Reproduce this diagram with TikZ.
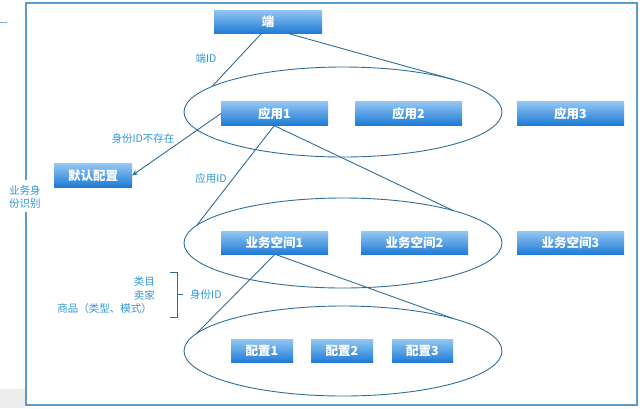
\documentclass[tikz,border=0pt]{standalone}
\usepackage{fontspec}
\setmainfont{Noto Sans CJK SC}
\usetikzlibrary{arrows.meta,calc}
\definecolor{frm}{HTML}{5B9BC9}
\definecolor{ln}{HTML}{2E6E9A}
\definecolor{lbl}{HTML}{2F97D6}
\definecolor{btop}{HTML}{92C6F3}
\definecolor{bbot}{HTML}{1C7AD5}
\tikzset{
  box/.style={rectangle, top color=btop, bottom color=bbot, draw=none,
    text=white, font=\fontsize{12.5}{14}\selectfont\bfseries,
    minimum height=23.5pt, inner sep=0pt, outer sep=0pt},
  lab/.style={text=lbl, font=\fontsize{10.5}{12.5}\selectfont, inner sep=0pt},
  conn/.style={draw=ln, line width=0.9pt},
  oval/.style={draw=ln, line width=0.9pt},
  frame/.style={draw=frm, line width=1.3pt}
}
\begin{document}
\begin{tikzpicture}[x=1pt,y=-1pt]
\useasboundingbox (0,0) rectangle (640,408);
% background bits
\fill[black!7] (0,389) rectangle (25,408);
\draw[frm!80, line width=0.9pt] (0,22) -- (7,22);
% frame
\draw[frame] (26,180) -- (26,3) -- (637,3) -- (637,405) -- (26,405) -- (26,212);
% ellipses
\draw[oval] (343,112) ellipse [x radius=159, y radius=45];
\draw[oval] (343,243) ellipse [x radius=159, y radius=45];
\draw[oval] (343,351) ellipse [x radius=159, y radius=45];
\coordinate (e1a) at (212,86.5);
\coordinate (e1b) at (455,80);
\coordinate (e2a) at (197,225);
\coordinate (e2b) at (453,210.5);
\coordinate (e3a) at (197,333);
\coordinate (e3b) at (453,318.5);
% boxes
\node[box, minimum width=108pt] (duan) at (268,22) {端};
\node[box, minimum width=107pt] (app1) at (274.5,113.5) {应用1};
\node[box, minimum width=107pt] (app2) at (408.5,113.5) {应用2};
\node[box, minimum width=107pt] (app3) at (570.5,113.5) {应用3};
\node[box, minimum width=78pt] (mr) at (93,175.5) {默认配置};
\node[box, minimum width=107pt] (ws1) at (274.5,243) {业务空间1};
\node[box, minimum width=107pt] (ws2) at (414.5,243) {业务空间2};
\node[box, minimum width=107pt] (ws3) at (570.5,243) {业务空间3};
\node[box, minimum width=62pt] (cf1) at (262,351) {配置1};
\node[box, minimum width=62pt] (cf2) at (342,351) {配置2};
\node[box, minimum width=61pt] (cf3) at (422.5,351) {配置3};
% connectors
\draw[conn] (duan.240) -- (e1a);
\draw[conn] (duan.331) -- (e1b);
\draw[conn, -{Stealth[length=6pt,width=5pt]}] (app1.west) -- (mr.east);
\draw[conn] (app1.south) -- (e2a);
\draw[conn] ($(app1.south)+(-1,0)$) -- (e2b);
\draw[conn] (ws1.south) -- (e3a);
\draw[conn] ($(ws1.south)+(2,0)$) -- (e3b);
% labels
\node[lab] (l1) at (206,59) {端ID};
\node[lab] (l2) at (143,139) {身份ID不存在};
\node[lab] (l3) at (211,178) {应用ID};
\node[lab, align=left, anchor=west] (l4) at (9,197) {业务身\\份识别};
\node[lab, anchor=east] (t1) at (155,282) {类目};
\node[lab, anchor=east] (t2) at (155,295.5) {卖家};
\node[lab, anchor=east] (t3) at (152,309) {商品（类型、模式）};
\coordinate (bt) at (177,272);
\coordinate (bb) at (177,317);
\draw[ln, line width=0.9pt] ($(bt)+(-7,0)$) -- (bt) -- (bb) -- ($(bb)+(-7,0)$);
\coordinate (bm) at (177,294);
\draw[ln, line width=0.9pt] (bm) -- ($(bm)+(6,0)$);
\node[lab, anchor=west] (l5) at (190,294.5) {身份ID};
\end{tikzpicture}
\end{document}
